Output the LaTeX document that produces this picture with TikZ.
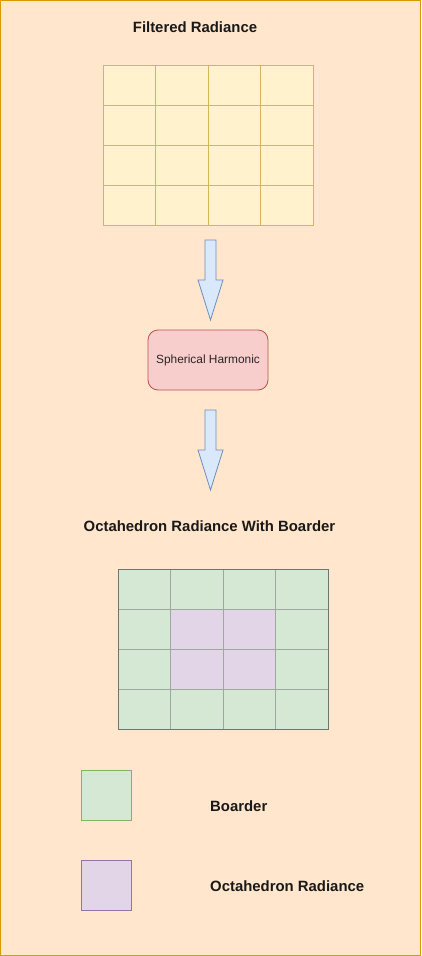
\documentclass[tikz,border=0pt]{standalone}
\usepackage{fontspec}
\setmainfont{Liberation Sans}
\definecolor{bgfill}{HTML}{FFE6CC}
\definecolor{bgstroke}{HTML}{D79B00}
\definecolor{yfill}{HTML}{FFF2CC}
\definecolor{ystroke}{HTML}{D6B656}
\definecolor{gfill}{HTML}{D5E8D4}
\definecolor{gstroke}{HTML}{82B366}
\definecolor{pfill}{HTML}{E1D5E7}
\definecolor{pstroke}{HTML}{9673A6}
\definecolor{rfill}{HTML}{F8CECC}
\definecolor{rstroke}{HTML}{B85450}
\definecolor{afill}{HTML}{DAE8FC}
\definecolor{astroke}{HTML}{6C8EBF}
\definecolor{cellgray}{HTML}{9FA89F}
\definecolor{outergray}{HTML}{6E766E}
\begin{document}
\begin{tikzpicture}[x=1pt,y=-1pt,
  ycell/.style={draw=ystroke,fill=yfill,line width=1pt,minimum width=52.5pt,minimum height=40pt,inner sep=0pt,outer sep=0pt},
  gcell/.style={draw=cellgray,fill=gfill,line width=1pt,minimum width=52.5pt,minimum height=40pt,inner sep=0pt,outer sep=0pt},
  pcell/.style={gcell,fill=pfill},
  boldlabel/.style={font=\fontsize{14.9}{17}\selectfont\bfseries,inner sep=0pt,anchor=base,text=black!90},
  flexarrow/.style={draw=astroke,fill=afill,line width=0.8pt,line join=miter},
  legendbox/.style={line width=1pt,minimum width=50pt,minimum height=50pt,inner sep=0pt}]
\useasboundingbox (0,0) rectangle (421,956);
\draw[fill=bgfill,draw=bgstroke,line width=1pt] (0.5,0.5) rectangle (420.5,955.5);

% Title 1
\node[boldlabel] (t1) at (195,32) {Filtered Radiance};

% Yellow grid
\foreach \i in {0,1,2,3}{
  \foreach \j in {0,1,2,3}{
    \node[ycell] (y-\i-\j) at ({103+52.5*\i+26.25},{65+40*\j+20}) {};
  }
}

% Arrow 1
\draw[flexarrow] (205,240) -- (216,240) -- (216,280) -- (223,280) -- (210.5,320) -- (198,280) -- (205,280) -- cycle;

% Spherical Harmonic
\node[draw=rstroke,fill=rfill,line width=0.8pt,rounded corners=10pt,minimum width=120pt,minimum height=60pt,inner sep=0pt,font=\fontsize{11.9}{14}\selectfont,text=black!85] (sh) at (208,360) {Spherical Harmonic};

% Arrow 2
\draw[flexarrow] (205,410) -- (216,410) -- (216,450) -- (223,450) -- (210.5,490) -- (198,450) -- (205,450) -- cycle;

% Title 2
\node[boldlabel] (t2) at (209.5,531) {Octahedron Radiance With Boarder};

% Green/purple grid
\foreach \i in {0,1,2,3}{
  \foreach \j in {0,1,2,3}{
    \node[gcell] (g-\i-\j) at ({118+52.5*\i+26.25},{569+40*\j+20}) {};
  }
}
\foreach \i in {1,2}{
  \foreach \j in {1,2}{
    \node[pcell] (p-\i-\j) at ({118+52.5*\i+26.25},{569+40*\j+20}) {};
  }
}
\draw[draw=outergray,line width=1pt] (g-0-0.north west) rectangle (g-3-3.south east);

% Legend
\node[legendbox,draw=gstroke,fill=gfill] (lg) at (106,795) {};
\node[boldlabel,anchor=base west] (lgt) at (210,811) {Boarder};
\node[legendbox,draw=pstroke,fill=pfill] (lp) at (106,885.5) {};
\node[boldlabel,anchor=base west] (lpt) at (210,891) {Octahedron Radiance};
\end{tikzpicture}
\end{document}
